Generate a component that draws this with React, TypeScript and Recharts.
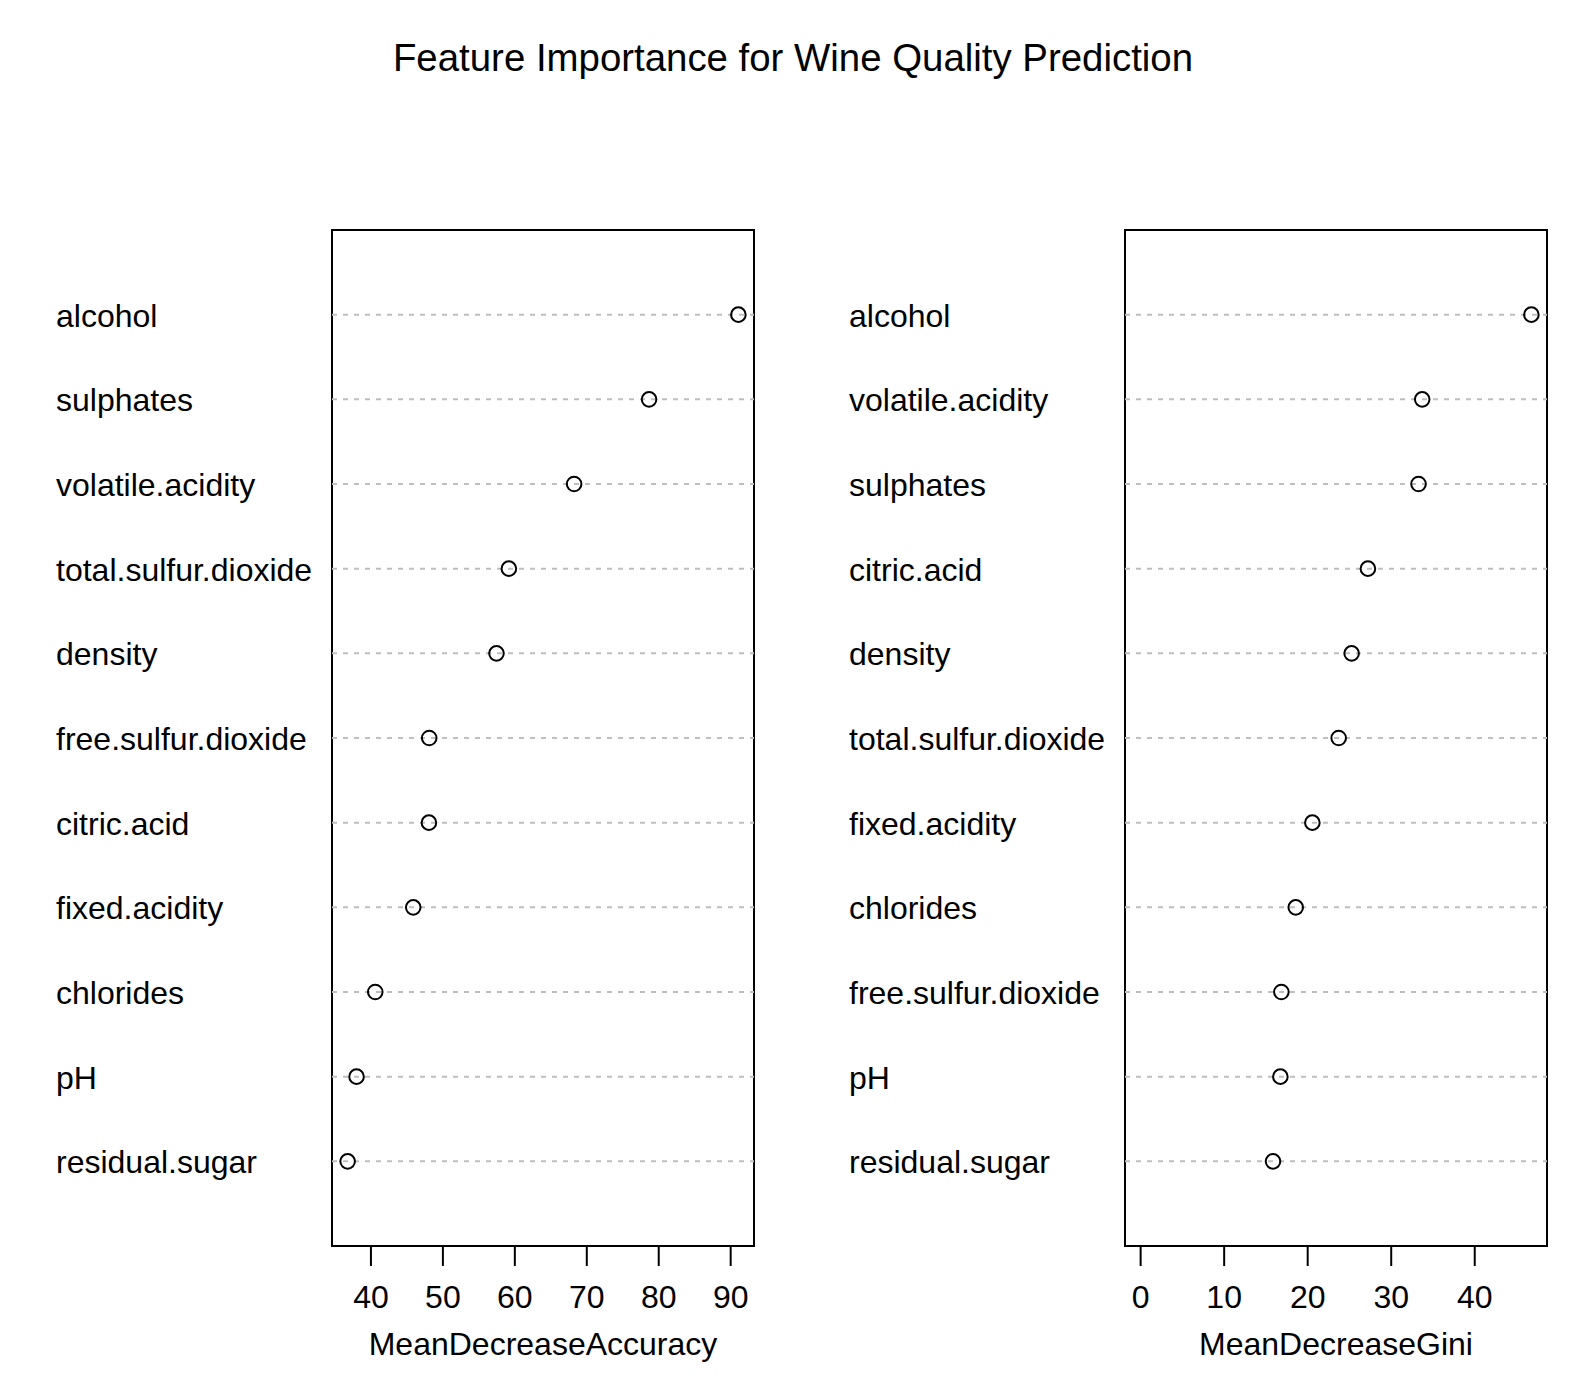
import React from "react";
import {
  ScatterChart,
  Scatter,
  XAxis,
  YAxis,
  ReferenceLine,
  ReferenceArea,
} from "recharts";

// rows listed top to bottom, as drawn
const accuracyFeatures = [
  "alcohol",
  "sulphates",
  "volatile.acidity",
  "total.sulfur.dioxide",
  "density",
  "free.sulfur.dioxide",
  "citric.acid",
  "fixed.acidity",
  "chlorides",
  "pH",
  "residual.sugar",
];
const accuracyValues = [91.07, 78.66, 68.24, 59.17, 57.45, 48.1, 48.06, 45.88, 40.6, 38.0, 36.76];
const accuracyTicks = [40, 50, 60, 70, 80, 90];

const giniFeatures = [
  "alcohol",
  "volatile.acidity",
  "sulphates",
  "citric.acid",
  "density",
  "total.sulfur.dioxide",
  "fixed.acidity",
  "chlorides",
  "free.sulfur.dioxide",
  "pH",
  "residual.sugar",
];
const giniValues = [46.78, 33.71, 33.27, 27.21, 25.26, 23.71, 20.56, 18.57, 16.85, 16.73, 15.85];
const giniTicks = [0, 10, 20, 30, 40];

const FONT = "'Liberation Sans', Arial, Helvetica, sans-serif";
const FS = 32;
const W = 793;
const H = 1400;

// R dotchart pads the x range by 4% on each side
function padRange(lo: number, hi: number): [number, number] {
  const d = (hi - lo) * 0.04;
  return [lo - d, hi + d];
}

function DotPanel({
  features,
  values,
  ticks,
  xmin,
  axisTitle,
}: {
  features: string[];
  values: number[];
  ticks: number[];
  xmin: number;
  axisTitle: string;
}) {
  const n = features.length;
  const data = features.map((f, i) => ({ name: f, x: values[i], y: n - i }));
  const domain = padRange(xmin, Math.max(...values));
  const rows = data.map((d) => d.y);

  const renderTick = (props: any) => {
    const idx = n - props.payload.value;
    return (
      <text x={56} y={props.y} dy={12} fontSize={FS} fill="#000" fontFamily={FONT} textAnchor="start">
        {features[idx]}
      </text>
    );
  };

  return (
    <ScatterChart
      width={W}
      height={H}
      margin={{ top: 230, right: 39, bottom: 0, left: 0 }}
      style={{ fontFamily: FONT }}
    >
      <XAxis
        type="number"
        dataKey="x"
        domain={domain}
        ticks={ticks}
        allowDataOverflow
        axisLine={false}
        tickLine={{ stroke: "#000", strokeWidth: 2 }}
        tickSize={20}
        tickMargin={19}
        height={154}
        tick={{ fontSize: FS, fill: "#000", fontFamily: FONT }}
        label={{
          value: axisTitle,
          position: "insideBottom",
          offset: 45,
          fontSize: FS,
          fill: "#000",
          fontFamily: FONT,
        }}
      />
      <YAxis
        type="number"
        dataKey="y"
        domain={[0, n + 1]}
        ticks={rows}
        width={332}
        axisLine={false}
        tickLine={false}
        tick={renderTick}
        interval={0}
      />
      {rows.map((r) => (
        <ReferenceLine
          key={r}
          y={r}
          stroke="#bebebe"
          strokeWidth={2}
          strokeDasharray="5 6"
        />
      ))}
      <ReferenceArea
        x1={domain[0]}
        x2={domain[1]}
        y1={0}
        y2={n + 1}
        fill="none"
        fillOpacity={0}
        stroke="#000"
        strokeWidth={2}
      />
      <Scatter
        data={data}
        isAnimationActive={false}
        shape={(p: any) => (
          <circle cx={p.cx} cy={p.cy} r={7.3} fill="none" stroke="#000" strokeWidth={2} />
        )}
      />
    </ScatterChart>
  );
}

export default function App() {
  return (
    <div
      style={{
        position: "absolute",
        left: 0,
        top: 0,
        width: 1586,
        height: H,
        background: "#fff",
        fontFamily: FONT,
      }}
    >
      <div style={{ position: "absolute", left: 0, top: 0 }}>
        <DotPanel
          features={accuracyFeatures}
          values={accuracyValues}
          ticks={accuracyTicks}
          xmin={Math.min(...accuracyValues)}
          axisTitle="MeanDecreaseAccuracy"
        />
      </div>
      <div style={{ position: "absolute", left: W, top: 0 }}>
        <DotPanel
          features={giniFeatures}
          values={giniValues}
          ticks={giniTicks}
          xmin={0}
          axisTitle="MeanDecreaseGini"
        />
      </div>
      <svg
        width={1586}
        height={100}
        style={{ position: "absolute", left: 0, top: 0, pointerEvents: "none" }}
      >
        <text x={793} y={71} textAnchor="middle" fontSize={38.4} fill="#000" fontFamily={FONT}>
          Feature Importance for Wine Quality Prediction
        </text>
      </svg>
    </div>
  );
}
